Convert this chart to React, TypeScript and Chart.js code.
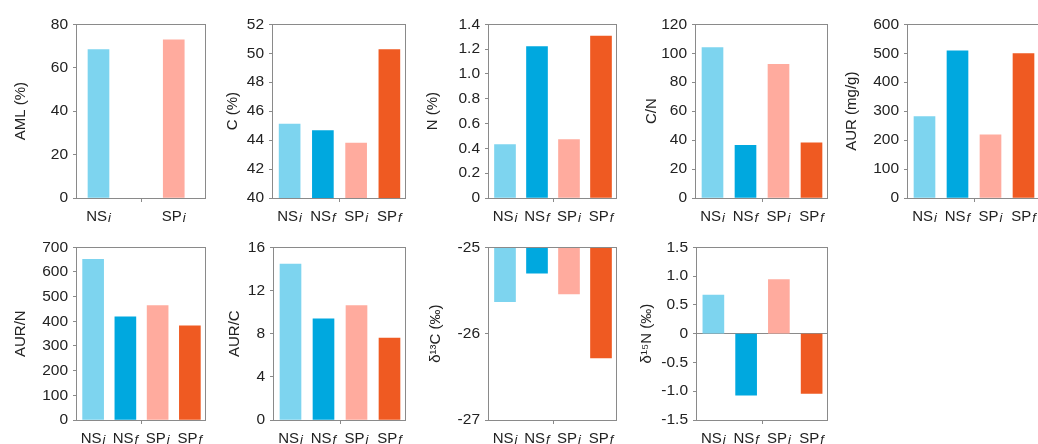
import React, { useEffect, useRef } from 'react';
import { Chart, registerables } from 'chart.js';
Chart.register(...registerables);

// ---------- data ----------
const categories = ['NSi', 'NSf', 'SPi', 'SPf'];
const amlCategories = ['NSi', 'SPi'];
const barColors = ['#7dd4ef', '#00a8df', '#ffab9e', '#ef5a22'];
const amlColors = ['#7dd4ef', '#ffab9e'];

const amlValues = [68.3, 72.9];
const carbonValues = [45.1, 44.65, 43.8, 50.25];
const nitrogenValues = [0.43, 1.22, 0.47, 1.305];
const cnValues = [104, 36.4, 92.4, 38.2];
const aurValues = [281, 508, 218, 499];
const aurNValues = [651, 418, 464, 382];
const aurCValues = [14.45, 9.37, 10.6, 7.6];
const d13CValues = [-25.63, -25.3, -25.54, -26.28];
const d15NValues = [0.67, -1.07, 0.94, -1.04];

const FONT = '"Liberation Sans", Arial, Helvetica, sans-serif';
const AXIS = '#8a8a8a';
const TEXT = '#222222';
const TITLE_SIZE = 15;
const TICK_SIZE = 15.5;
const PAD_TOP = 10;
const PAD_RIGHT = 4;
const X_H = 30;

Chart.defaults.font.family = FONT;

// AML panel uses a wider slot grid so its two bars sit where the original put them
const AML_SLOTS = 13;
const AML_INDEX = [2, 9];
const amlLabels = Array.from({ length: AML_SLOTS }, (_, i) => {
  const k = AML_INDEX.indexOf(i);
  return k >= 0 ? amlCategories[k] : '';
});
const amlData = Array.from({ length: AML_SLOTS }, (_, i) => {
  const k = AML_INDEX.indexOf(i);
  return k >= 0 ? amlValues[k] : null;
});
const amlBarColors = Array.from({ length: AML_SLOTS }, (_, i) => {
  const k = AML_INDEX.indexOf(i);
  return k >= 0 ? amlColors[k] : 'transparent';
});

type Spec = {
  id: string;
  title: string;
  labels: string[];
  data: (number | null)[];
  colors: string[];
  min: number;
  max: number;
  step: number;
  decimals: number;
  offset: boolean;
  mid: number;
  zeroLine?: boolean;
  titleX: number;
  plot: { left: number; right: number; top: number; bottom: number };
};

const R1 = { top: 20, bottom: 198 };
const R2 = { top: 243, bottom: 420 };

const panels: Spec[] = [
  { id: 'aml', title: 'AML (%)', labels: amlLabels, data: amlData, colors: amlBarColors, min: 0, max: 80, step: 20, decimals: 0, offset: false, mid: 6, titleX: 21, plot: { left: 77, right: 206, ...R1 } },
  { id: 'c', title: 'C (%)', labels: categories, data: carbonValues, colors: barColors, min: 40, max: 52, step: 2, decimals: 0, offset: true, mid: 2, titleX: 232.5, plot: { left: 273, right: 406, ...R1 } },
  { id: 'n', title: 'N (%)', labels: categories, data: nitrogenValues, colors: barColors, min: 0, max: 1.4, step: 0.2, decimals: 1, offset: true, mid: 2, titleX: 433, plot: { left: 489, right: 617, ...R1 } },
  { id: 'cn', title: 'C/N', labels: categories, data: cnValues, colors: barColors, min: 0, max: 120, step: 20, decimals: 0, offset: true, mid: 2, titleX: 652, plot: { left: 696, right: 828, ...R1 } },
  { id: 'aur', title: 'AUR (mg/g)', labels: categories, data: aurValues, colors: barColors, min: 0, max: 600, step: 100, decimals: 0, offset: true, mid: 2, titleX: 852, plot: { left: 908, right: 1040, ...R1 } },
  { id: 'aurn', title: 'AUR/N', labels: categories, data: aurNValues, colors: barColors, min: 0, max: 700, step: 100, decimals: 0, offset: true, mid: 2, titleX: 20.5, plot: { left: 77, right: 206, ...R2 } },
  { id: 'aurc', title: 'AUR/C', labels: categories, data: aurCValues, colors: barColors, min: 0, max: 16, step: 4, decimals: 0, offset: true, mid: 2, titleX: 235, plot: { left: 274, right: 406, ...R2 } },
  { id: 'd13c', title: 'δ¹³C (‰)', labels: categories, data: d13CValues, colors: barColors, min: -27, max: -25, step: 1, decimals: 0, offset: true, mid: 2, titleX: 436, plot: { left: 489, right: 617, ...R2 } },
  { id: 'd15n', title: 'δ¹⁵N (‰)', labels: categories, data: d15NValues, colors: barColors, min: -1.5, max: 1.5, step: 0.5, decimals: 1, offset: true, mid: 2, zeroLine: true, titleX: 647, plot: { left: 697, right: 828, ...R2 } },
];

const decorPlugin = {
  id: 'panelDecor',
  afterDatasetsDraw(chart: any) {
    const { ctx, chartArea: a } = chart;
    const L = Math.round(a.left), T = Math.round(a.top), Rr = Math.round(a.right), B = Math.round(a.bottom);
    ctx.save();
    ctx.strokeStyle = AXIS;
    ctx.lineWidth = 1;
    ctx.strokeRect(L - 0.5, T + 0.5, Rr - L, B - T);
    // x labels with italic subscript
    const xs = chart.scales.x;
    const labels: string[] = chart.data.labels;
    labels.forEach((lab, i) => {
      if (!lab) return;
      const x = xs.getPixelForValue(i);
      const base = lab.slice(0, -1);
      const sub = lab.slice(-1);
      ctx.font = `15px ${FONT}`;
      const wb = ctx.measureText(base).width;
      ctx.font = `italic 13px ${FONT}`;
      const ws = ctx.measureText(sub).width;
      const start = x - (wb + ws + 1) / 2;
      const y = B + 23;
      ctx.fillStyle = TEXT;
      ctx.textAlign = 'left';
      ctx.textBaseline = 'alphabetic';
      ctx.font = `15px ${FONT}`;
      ctx.fillText(base, start, y);
      ctx.font = `italic 13px ${FONT}`;
      ctx.fillText(sub, start + wb + 1, y + 1);
    });
    ctx.restore();
  },
};

function Panel({ spec }: { spec: Spec }) {
  const ref = useRef<HTMLCanvasElement | null>(null);
  const offset = 4 + (TITLE_SIZE * 1.2) / 2;
  const left = Math.round(spec.titleX - offset);
  const top = spec.plot.top - PAD_TOP;
  const width = spec.plot.right + PAD_RIGHT - left;
  const height = spec.plot.bottom + X_H - top;
  const yW = spec.plot.left - left;

  useEffect(() => {
    if (!ref.current) return;
    const chart = new Chart(ref.current, {
      type: 'bar',
      data: {
        labels: spec.labels,
        datasets: [
          {
            data: spec.data as any,
            backgroundColor: spec.colors,
            borderWidth: 0,
            barThickness: 21,
          },
        ],
      },
      options: {
        responsive: false,
        animation: false,
        devicePixelRatio: 1,
        layout: { padding: { top: PAD_TOP, right: PAD_RIGHT, left: 0, bottom: 0 } },
        plugins: { legend: { display: false }, tooltip: { enabled: false } },
        scales: {
          x: {
            type: 'category',
            offset: spec.offset,
            grid: {
              offset: spec.offset,
              drawOnChartArea: false,
              drawTicks: true,
              tickLength: 4,
              tickWidth: 1,
              tickColor: (c: any) => (c.index === spec.mid ? AXIS : 'transparent'),
            },
            border: { display: false },
            ticks: { display: false, autoSkip: false },
            afterFit: (s: any) => {
              s.height = X_H;
            },
          },
          y: {
            min: spec.min,
            max: spec.max,
            ticks: {
              stepSize: spec.step,
              color: TEXT,
              padding: 5,
              font: { size: TICK_SIZE, family: FONT },
              callback: (v: any) => (Number(v) === 0 ? '0' : Number(v).toFixed(spec.decimals)),
            },
            grid: {
              drawOnChartArea: !!spec.zeroLine,
              color: (c: any) => (spec.zeroLine && c.tick && c.tick.value === 0 ? AXIS : 'transparent'),
              tickColor: AXIS,
              tickLength: 4,
              lineWidth: 1,
            },
            border: { display: false },
            title: {
              display: true,
              text: spec.title,
              color: TEXT,
              font: { size: TITLE_SIZE, family: FONT },
              padding: { top: 4, bottom: 4 },
            },
            afterFit: (s: any) => {
              s.width = yW;
            },
          },
        },
      },
      plugins: [decorPlugin],
    });
    return () => chart.destroy();
  }, []);

  return (
    <canvas
      ref={ref}
      width={width}
      height={height}
      style={{ position: 'absolute', left, top, width, height }}
    />
  );
}

export default function App() {
  return (
    <div
      style={{
        position: 'fixed',
        left: 0,
        top: 0,
        width: 1038,
        height: 444,
        overflow: 'hidden',
        background: '#ffffff',
      }}
    >
      {panels.map((p) => (
        <Panel key={p.id} spec={p} />
      ))}
    </div>
  );
}
